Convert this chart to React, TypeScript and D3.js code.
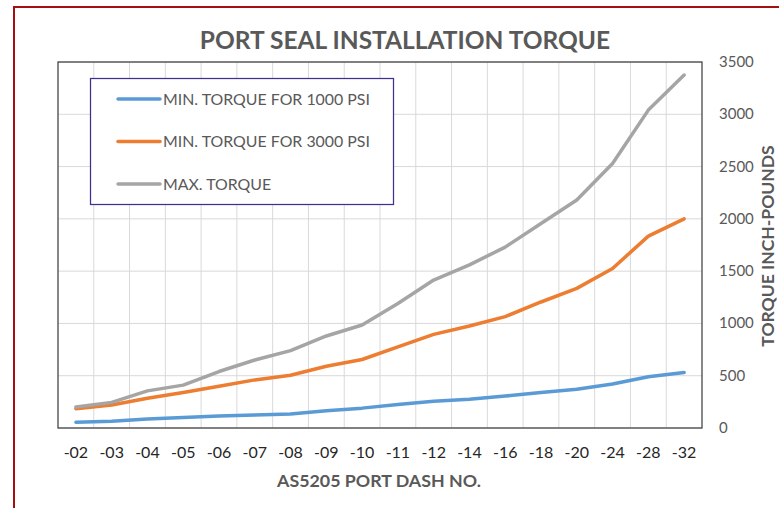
import React from 'react';
import * as d3 from 'd3';

const categories = ['-02', '-03', '-04', '-05', '-06', '-07', '-08', '-09', '-10', '-11', '-12', '-14', '-16', '-18', '-20', '-24', '-28', '-32'];
const min1000 = [55, 65, 85, 100, 115, 125, 135, 165, 190, 225, 255, 275, 305, 340, 370, 420, 490, 530];
const min3000 = [185, 220, 285, 340, 400, 460, 505, 590, 655, 775, 895, 975, 1065, 1205, 1335, 1525, 1835, 2000];
const maxTorque = [200, 245, 355, 410, 540, 650, 740, 880, 985, 1190, 1415, 1560, 1730, 1955, 2180, 2530, 3040, 3375];
const yTicks = [0, 500, 1000, 1500, 2000, 2500, 3000, 3500];

const series = [
  { name: 'MIN. TORQUE FOR 1000 PSI', values: min1000, color: '#5B9BD5' },
  { name: 'MIN. TORQUE FOR 3000 PSI', values: min3000, color: '#ED7D31' },
  { name: 'MAX. TORQUE', values: maxTorque, color: '#A5A5A5' },
];

const W = 779;
const H = 508;
const plot = { left: 58, right: 702, top: 62, bottom: 428 };
const font = 'Lato, "Open Sans", sans-serif';

export default function App() {
  const x = d3.scaleBand<string>().domain(categories).range([plot.left, plot.right]).padding(0);
  const y = d3.scaleLinear().domain([0, 3500]).range([plot.bottom, plot.top]);
  const cx = (c: string) => (x(c) ?? 0) + x.bandwidth() / 2;

  const line = d3.line<number>()
    .x((_, i) => cx(categories[i]))
    .y(d => y(d));

  return (
    <svg width={W} height={H} style={{ position: 'absolute', left: 0, top: 0, background: '#fff' }}>
      <rect x={0} y={0} width={W} height={H} fill="#fff" />
      {/* outer frame */}
      <rect x={14} y={7} width={W + 20} height={H + 20} fill="none" stroke="#A50F0F" strokeWidth={2} />

      {/* title */}
      <text x={405} y={49} textAnchor="middle" fontFamily={font} fontWeight="bold" fontSize={24.5} fill="#595959">
        PORT SEAL INSTALLATION TORQUE
      </text>

      {/* gridlines */}
      {yTicks.map(t => (
        <line key={'h' + t} x1={plot.left} x2={plot.right} y1={y(t)} y2={y(t)} stroke="#D9D9D9" strokeWidth={1} />
      ))}
      {categories.slice(1).map(c => (
        <line key={'v' + c} x1={x(c)} x2={x(c)} y1={plot.top} y2={plot.bottom} stroke="#D9D9D9" strokeWidth={1} />
      ))}

      {/* plot border */}
      <rect x={plot.left} y={plot.top} width={plot.right - plot.left} height={plot.bottom - plot.top}
        fill="none" stroke="#404040" strokeWidth={1.25} />

      {/* series */}
      {series.map(s => (
        <path key={s.name} d={line(s.values) ?? ''} fill="none" stroke={s.color} strokeWidth={3.5}
          strokeLinejoin="round" strokeLinecap="round" />
      ))}

      {/* x tick labels */}
      {categories.map(c => (
        <text key={'xt' + c} x={cx(c)} y={458} textAnchor="middle" fontFamily={font} fontSize={16} fill="#262626">
          {c}
        </text>
      ))}

      {/* y tick labels (right) */}
      {yTicks.map(t => (
        <text key={'yt' + t} x={719} y={y(t) + 5} textAnchor="start" fontFamily={font} fontSize={15} fill="#595959">
          {t}
        </text>
      ))}

      {/* axis titles */}
      <text x={379} y={487} textAnchor="middle" fontFamily={font} fontWeight="bold" fontSize={17.8} fill="#595959">
        AS5205 PORT DASH NO.
      </text>
      <text transform="translate(774,246) rotate(-90)" textAnchor="middle" fontFamily={font} fontWeight="bold"
        fontSize={17.5} fill="#595959">
        TORQUE INCH-POUNDS
      </text>

      {/* legend */}
      <rect x={90.5} y={78.5} width={303} height={126} fill="#fff" stroke="#3F3190" strokeWidth={1.25} />
      {series.map((s, i) => {
        const ly = 99 + i * 42.5;
        return (
          <g key={'lg' + s.name}>
            <line x1={118} x2={160} y1={ly} y2={ly} stroke={s.color} strokeWidth={3.5} strokeLinecap="round" />
            <text x={163} y={ly + 5.5} fontFamily={font} fontSize={15.9} fill="#595959">{s.name}</text>
          </g>
        );
      })}
    </svg>
  );
}
